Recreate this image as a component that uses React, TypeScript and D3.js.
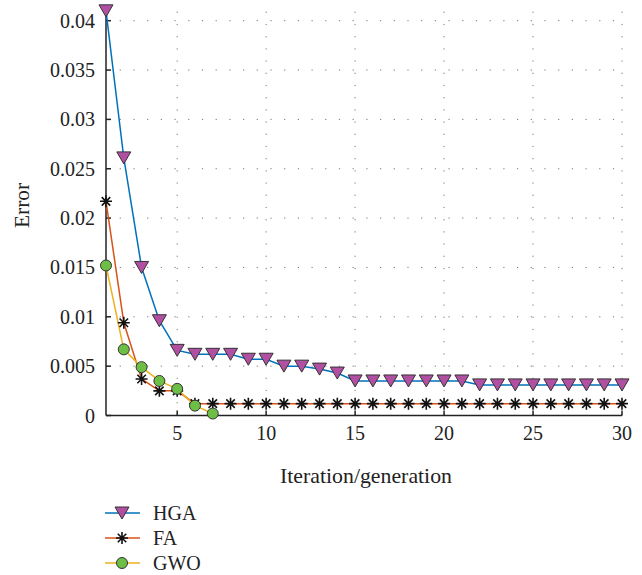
import React from "react";
import * as d3 from "d3";

const iterations = d3.range(1, 31);
const hgaValues = [0.041, 0.0261, 0.015, 0.0096, 0.0066, 0.0062, 0.0062, 0.0062, 0.0057, 0.0057, 0.005, 0.005, 0.0047, 0.0043, 0.0035, 0.0035, 0.0035, 0.0035, 0.0035, 0.0035, 0.0035, 0.0031, 0.0031, 0.0031, 0.0031, 0.0031, 0.0031, 0.0031, 0.0031, 0.0031];
const faValues = [0.0217, 0.0094, 0.0037, 0.0025, 0.0025, 0.0012, 0.0012, 0.0012, 0.0012, 0.0012, 0.0012, 0.0012, 0.0012, 0.0012, 0.0012, 0.0012, 0.0012, 0.0012, 0.0012, 0.0012, 0.0012, 0.0012, 0.0012, 0.0012, 0.0012, 0.0012, 0.0012, 0.0012, 0.0012, 0.0012];
const gwoValues = [0.0152, 0.0067, 0.0049, 0.0035, 0.0027, 0.001, 0.0002];
const xTicks = [5, 10, 15, 20, 25, 30];
const yTicks = [0, 0.005, 0.01, 0.015, 0.02, 0.025, 0.03, 0.035, 0.04];
const yTickLabels = ["0", "0.005", "0.01", "0.015", "0.02", "0.025", "0.03", "0.035", "0.04"];
const seriesNames = ["HGA", "FA", "GWO"];

const W = 642, H = 575;
const FONT = "'Liberation Serif', 'Times New Roman', serif";
const C = { hga: "#0072BD", fa: "#D95319", gwo: "#EDB120", tri: "#B14FA2", circ: "#6DBE45", edge: "#333" };

function Tri({ x, y }: { x: number; y: number }) {
  const w = 14, h = 12;
  return <path d={`M${x - w / 2},${y - h / 2}L${x + w / 2},${y - h / 2}L${x},${y + h / 2}Z`} fill={C.tri} stroke={C.edge} strokeWidth={1} />;
}
function Star({ x, y }: { x: number; y: number }) {
  const r = 6;
  const segs = [0, 45, 90, 135].map((a) => {
    const rad = (a * Math.PI) / 180;
    return `M${x - r * Math.cos(rad)},${y - r * Math.sin(rad)}L${x + r * Math.cos(rad)},${y + r * Math.sin(rad)}`;
  });
  return <path d={segs.join("")} stroke="#111" strokeWidth={1.6} fill="none" />;
}
function Circ({ x, y }: { x: number; y: number }) {
  return <circle cx={x} cy={y} r={5.5} fill={C.circ} stroke={C.edge} strokeWidth={1} />;
}

export default function App() {
  const x = d3.scaleLinear().domain([1, 30]).range([106, 622]);
  const y = d3.scaleLinear().domain([0, 0.04]).range([415.5, 20.7]);
  const yTop = y(0.041);
  const line = d3.line<[number, number]>().x((d) => x(d[0])).y((d) => y(d[1]));
  const hga = iterations.map((it, i) => [it, hgaValues[i]] as [number, number]);
  const fa = iterations.map((it, i) => [it, faValues[i]] as [number, number]);
  const gwo = gwoValues.map((v, i) => [iterations[i], v] as [number, number]);

  return (
    <svg width={W} height={H} style={{ position: "absolute", left: 0, top: 0 }} fontFamily={FONT}>
      <rect width={W} height={H} fill="#fff" />
      {yTicks.slice(1).map((t) => (
        <line key={"gy" + t} x1={x(1)} x2={x(30)} y1={y(t)} y2={y(t)} stroke="#777" strokeWidth={1} strokeDasharray="1.2,12.5" />
      ))}
      {xTicks.map((t) => (
        <line key={"gx" + t} x1={x(t)} x2={x(t)} y1={y(0)} y2={yTop} stroke="#777" strokeWidth={1} strokeDasharray="1.2,11" />
      ))}
      <line x1={x(1)} x2={x(1)} y1={yTop} y2={y(0)} stroke="#222" strokeWidth={1.5} />
      <line x1={x(1)} x2={x(30)} y1={y(0)} y2={y(0)} stroke="#222" strokeWidth={1.5} />
      {yTicks.map((t, i) => (
        <g key={"yt" + t}>
          <line x1={x(1)} x2={x(1) + 5} y1={y(t)} y2={y(t)} stroke="#222" strokeWidth={1.5} />
          <text x={x(1) - 11} y={y(t)} dy="0.35em" textAnchor="end" fontSize={20} fill="#222">{yTickLabels[i]}</text>
        </g>
      ))}
      {xTicks.map((t) => (
        <g key={"xt" + t}>
          <line x1={x(t)} x2={x(t)} y1={y(0)} y2={y(0) - 5} stroke="#222" strokeWidth={1.5} />
          <text x={x(t)} y={440} textAnchor="middle" fontSize={20} fill="#222">{t}</text>
        </g>
      ))}
      <text x={366} y={483} textAnchor="middle" fontSize={22} fill="#222" textLength={172} lengthAdjust="spacingAndGlyphs">Iteration/generation</text>
      <text transform={`translate(29,205.5) rotate(-90)`} textAnchor="middle" fontSize={22} fill="#222" textLength={45} lengthAdjust="spacingAndGlyphs">Error</text>
      <path d={line(hga) || ""} fill="none" stroke={C.hga} strokeWidth={1.5} />
      <path d={line(fa) || ""} fill="none" stroke={C.fa} strokeWidth={1.5} />
      <path d={line(gwo) || ""} fill="none" stroke={C.gwo} strokeWidth={1.5} />
      {hga.map((d, i) => <Tri key={"h" + i} x={x(d[0])} y={y(d[1])} />)}
      {fa.map((d, i) => <Star key={"f" + i} x={x(d[0])} y={y(d[1])} />)}
      {gwo.map((d, i) => <Circ key={"g" + i} x={x(d[0])} y={y(d[1])} />)}
      {seriesNames.map((n, i) => {
        const ly = 513 + i * 25;
        const col = [C.hga, C.fa, C.gwo][i];
        return (
          <g key={n}>
            <line x1={105} x2={140} y1={ly} y2={ly} stroke={col} strokeWidth={1.5} />
            {i === 0 ? <Tri x={122} y={ly} /> : i === 1 ? <Star x={122} y={ly} /> : <Circ x={122} y={ly} />}
            <text x={153} y={ly} dy="0.35em" fontSize={20} fill="#222">{n}</text>
          </g>
        );
      })}
    </svg>
  );
}
